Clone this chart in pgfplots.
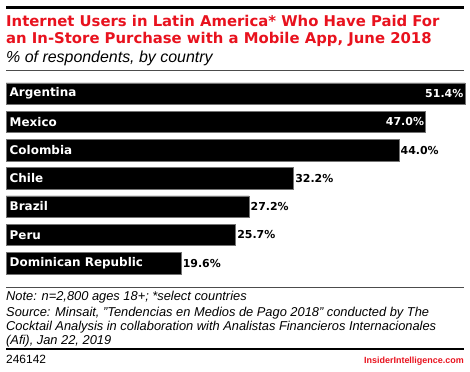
\documentclass[border=0pt]{standalone}
\usepackage{fontspec}
\setmainfont{Liberation Sans}
\newfontfamily\dv{DejaVu Sans}
\usepackage{pgfplots}
\pgfplotsset{compat=1.18}
\definecolor{emred}{RGB}{232,18,30}
\begin{document}
\begin{tikzpicture}[x=1bp,y=1bp]
\useasboundingbox (0,0) rectangle (470,371);
% top rule
\fill (6,362.3) rectangle (464,365);
\node[anchor=base west,inner sep=0,text=emred,font=\dv\bfseries\fontsize{14.9}{17}\selectfont] at (6,344.5) {Internet Users in Latin America* Who Have Paid For};
\node[anchor=base west,inner sep=0,text=emred,font=\dv\bfseries\fontsize{14.9}{17}\selectfont] at (6,328) {an In-Store Purchase with a Mobile App, June 2018};
\node[anchor=base west,inner sep=0,font=\itshape\fontsize{16}{18}\selectfont] at (6,309) {\% of respondents, by country};
\draw[line width=0.8bp,black!70] (6,301) -- (464,301);
\begin{axis}[
  at={(6bp,291.6bp)}, anchor=north west,
  scale only axis, width=459bp, height=197.75bp,
  xmin=0, xmax=51.4, ymin=-0.5, ymax=6.5,
  y dir=reverse, axis lines=none, ticks=none,
  xbar, bar width=21.5bp, bar shift=0pt, clip=false,
  /pgf/number format/assume math mode=true,
  nodes near coords={\pgfmathprintnumber[fixed,precision=1,fixed zerofill]{\pgfplotspointmeta}\%},
  point meta=x,
  every node near coord/.append style={font=\dv\bfseries\fontsize{11}{13}\selectfont, inner sep=1.5bp},
]
\addplot[fill=black, draw=black!55, line width=0.5bp,
  nodes near coords style={anchor=east, text=white}] coordinates {(51.4,0) (47.0,1)};
\addplot[fill=black, draw=black!55, line width=0.5bp,
  nodes near coords style={anchor=west, text=black}] coordinates {(44.0,2) (32.2,3) (27.2,4) (25.7,5) (19.6,6)};
\begin{scope}[every node/.style={anchor=west, text=white, inner sep=0, xshift=3.5bp, font=\dv\bfseries\fontsize{12}{14}\selectfont}]
\node at (axis cs:0,0) {Argentina};
\node at (axis cs:0,1) {Mexico};
\node at (axis cs:0,2) {Colombia};
\node at (axis cs:0,3) {Chile};
\node at (axis cs:0,4) {Brazil};
\node at (axis cs:0,5) {Peru};
\node at (axis cs:0,6) {Dominican Republic};
\end{scope}
\end{axis}
\draw[line width=0.8bp,black!70] (6,84) -- (464,84);
\begin{scope}[every node/.style={anchor=base west,inner sep=0,font=\itshape\fontsize{12.9}{15}\selectfont}]
\node at (6,71) {Note: n=2,800 ages 18+; *select countries};
\node at (6,55) {Source: Minsait, "Tendencias en Medios de Pago 2018" conducted by The};
\node at (6,41) {Cocktail Analysis in collaboration with Analistas Financieros Internacionales};
\node at (6,27) {(Afi), Jan 22, 2019};
\end{scope}
\fill (6,21) rectangle (464,23.5);
\node[anchor=base west,inner sep=0,font=\fontsize{12}{14}\selectfont] at (6,8) {246142};
\node[anchor=base east,inner sep=0,text=emred,font=\bfseries\fontsize{9}{11}\selectfont] at (464,8) {InsiderIntelligence.com};
\end{tikzpicture}
\end{document}
